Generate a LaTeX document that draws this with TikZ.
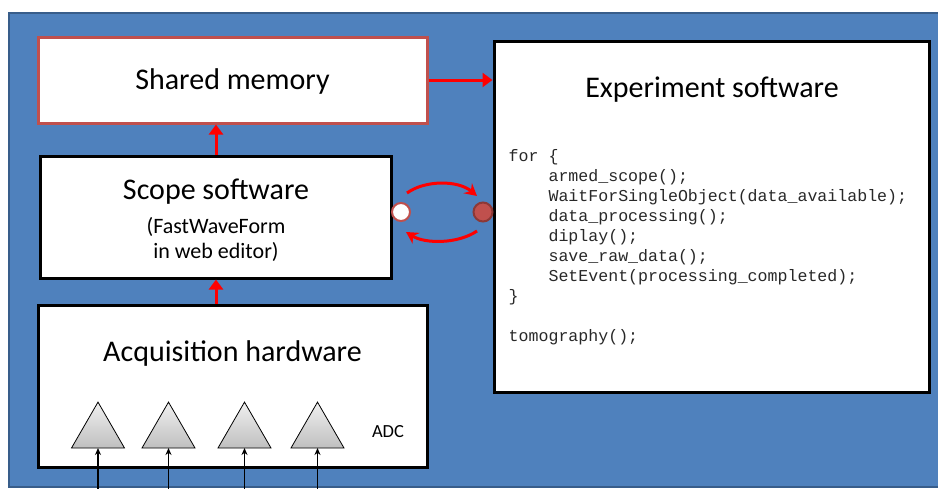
\documentclass[tikz,border=0pt]{standalone}
\usepackage{fontspec}
\setmainfont{Carlito}
\setmonofont{Liberation Mono}
\usetikzlibrary{arrows.meta,shapes.geometric}
\definecolor{bgblue}{RGB}{79,129,189}
\definecolor{bgedge}{RGB}{56,93,138}
\definecolor{smred}{RGB}{192,80,77}
\definecolor{darkred}{RGB}{140,56,54}
\definecolor{codegray}{RGB}{40,40,40}
\tikzset{
  box/.style={draw=black, fill=white, line width=3pt, inner sep=0pt},
  redarrow/.style={draw=red, line width=3pt, -{Triangle[length=10pt,width=14pt]}},
  cyclearrow/.style={draw=red, line width=3pt, -{Stealth[length=12pt,width=13pt,inset=4pt]}},
  title/.style={font=\fontsize{30}{34}\selectfont, inner sep=0pt},
  adc/.style={regular polygon, regular polygon sides=3, minimum size=61.2pt, inner sep=0pt, outer sep=0pt,
    draw=black, line width=0.8pt, top color=gray!12, bottom color=gray!50},
  inarrow/.style={draw=black, line width=1.2pt, -{Stealth[length=7pt,width=6pt]}},
}
\begin{document}
\begin{tikzpicture}[x=1pt,y=-1pt]
\fill[white] (0,0) rectangle (938,488);
\useasboundingbox (0,0) rectangle (938,488);
\fill[bgblue] (9,13) rectangle (945,487);
\draw[bgedge, line width=1.5pt] (945,13) -- (9,13) -- (9,487) -- (945,487);

\node[box, draw=smred, minimum width=389pt, minimum height=86pt] (sm) at (232.5,80) {};
\node[title] (smt) at (232.5,81.5) {Shared memory};

\node[box, minimum width=435pt, minimum height=351pt] (exp) at (711.5,216.5) {};
\node[title] (expt) at (712,89.5) {Experiment software};
\node[anchor=north west, align=left, inner sep=0pt, text=codegray, font=\ttfamily\fontsize{16.6}{20}\selectfont] (code) at (508.5,149) {%
for \{\\
\hspace*{2.4em}armed\_scope();\\
\hspace*{2.4em}WaitForSingleObject(data\_available);\\
\hspace*{2.4em}data\_processing();\\
\hspace*{2.4em}diplay();\\
\hspace*{2.4em}save\_raw\_data();\\
\hspace*{2.4em}SetEvent(processing\_completed);\\
\}\\
\mbox{}\\
tomography();};

\node[box, minimum width=351pt, minimum height=122pt] (scope) at (215.5,217) {};
\node[title] (scopet) at (216,191.5) {Scope software};
\node[align=center, inner sep=0pt, font=\fontsize{22}{25}\selectfont] (scopes) at (216,239) {(FastWaveForm\\in web editor)};

\node[box, minimum width=389pt, minimum height=162pt] (acq) at (232.5,386) {};
\node[title] (acqt) at (232.5,353.5) {Acquisition hardware};
\node[inner sep=0pt, font=\fontsize{18.5}{22}\selectfont] (adct) at (388,432) {ADC};

\foreach \i/\x in {1/98, 2/168.5, 3/244.5, 4/317.5} {
  \node[adc] (t\i) at (\x,432.7) {};
  \coordinate (in\i) at (\x,490);
  \draw[inarrow] (in\i) -- (t\i.south);
}

\draw[redarrow] (sm.east) -- (exp.west |- sm.east);
\draw[redarrow] (scope.north -| 216,0) -- (sm.south -| 216,0);
\draw[redarrow] (acq.north -| 216,0) -- (scope.south -| 216,0);

\node[circle, draw=smred, fill=white, line width=2pt, minimum size=18pt, inner sep=0pt] (c1) at (401,212) {};
\node[circle, draw=darkred, fill=smred, line width=2pt, minimum size=19pt, inner sep=0pt] (c2) at (483,212) {};
\coordinate (a1) at (407,193);
\coordinate (a2) at (477,196);
\coordinate (b1) at (477,231);
\coordinate (b2) at (406,232);
\draw[cyclearrow] (a1) .. controls (425,180) and (458,180) .. (a2);
\draw[cyclearrow] (b1) .. controls (458,244) and (425,244) .. (b2);
\end{tikzpicture}
\end{document}
